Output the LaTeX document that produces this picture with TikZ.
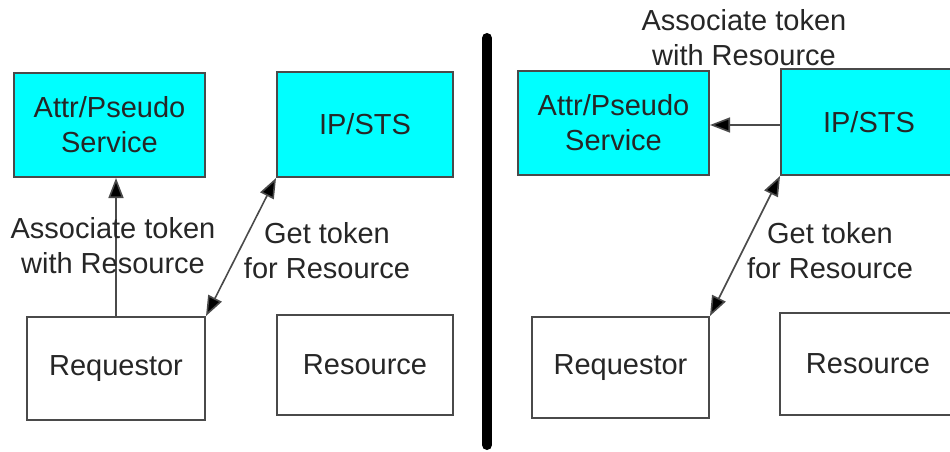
\documentclass[tikz,border=0pt]{standalone}
\usepackage{fontspec}
\setmainfont{Liberation Sans}
\usetikzlibrary{arrows.meta,calc}
\definecolor{boxcyan}{HTML}{00FFFF}
\definecolor{edgegray}{HTML}{4A4A4A}
\definecolor{inkgray}{HTML}{262626}
\tikzset{
  box/.style={draw=edgegray, line width=2pt, rectangle, inner sep=0pt,
              align=center, text=inkgray, font=\fontsize{29}{35}\selectfont},
  service/.style={box, fill=boxcyan},
  party/.style={box, fill=white},
  label/.style={align=center, text=inkgray, inner sep=0pt,
                font=\fontsize{29}{35}\selectfont},
  tip/.style={Triangle[length=20pt,width=15pt,fill=black]},
  flow/.style={draw=edgegray, line width=1.6pt, -{Triangle[length=20pt,width=15pt,fill=black]}},
  twoway/.style={draw=edgegray, line width=1.6pt,
               {Triangle[length=20pt,width=15pt,fill=black]}-{Triangle[length=20pt,width=15pt,fill=black]}},
  divider/.style={line width=10pt, line cap=round, black}
}
\begin{document}
\begin{tikzpicture}[x=1pt, y=-1pt]
\useasboundingbox (0,0) rectangle (950,452);
\clip (0,0) rectangle (950,452);

% left variant: requestor associates the token itself
\node[service, minimum width=191pt, minimum height=104pt] (attrA) at (109.5,125) {Attr/Pseudo\\Service};
\node[service, minimum width=176pt, minimum height=105pt] (ipA) at (365,124.5) {IP/STS};
\node[party, minimum width=178pt, minimum height=103pt] (reqA) at (116,368.5) {Requestor};
\node[party, minimum width=176pt, minimum height=100pt] (resA) at (365,365) {Resource};

\draw[flow] (reqA.north) -- (reqA.north |- attrA.south);
\draw[twoway] (reqA.north east) -- (ipA.south west);

\node[label] (assocA) at (113,246) {Associate token\\with Resource};
\node[label] (getA) at (327,251) {Get token\\for Resource};

% separator
\coordinate (sepTop) at (487,38);
\coordinate (sepBot) at (487,445);
\draw[divider] (sepTop) -- (sepBot);

% right variant: IP/STS associates the token
\node[service, minimum width=191pt, minimum height=104pt] (attrB) at (613.5,123) {Attr/Pseudo\\Service};
\node[service, minimum width=176pt, minimum height=106pt] (ipB) at (869,122) {IP/STS};
\node[party, minimum width=177pt, minimum height=101pt] (reqB) at (620.5,367.5) {Requestor};
\node[party, minimum width=176pt, minimum height=102pt] (resB) at (868,364) {Resource};

\draw[flow] ($(ipB.west)+(0,3)$) -- ($(ipB.west -| attrB.east)+(0,3)$);
\draw[twoway] (reqB.north east) -- (ipB.south west);

\node[label] (assocB) at (744,38) {Associate token\\with Resource};
\node[label] (getB) at (830,251) {Get token\\for Resource};
\end{tikzpicture}
\end{document}
